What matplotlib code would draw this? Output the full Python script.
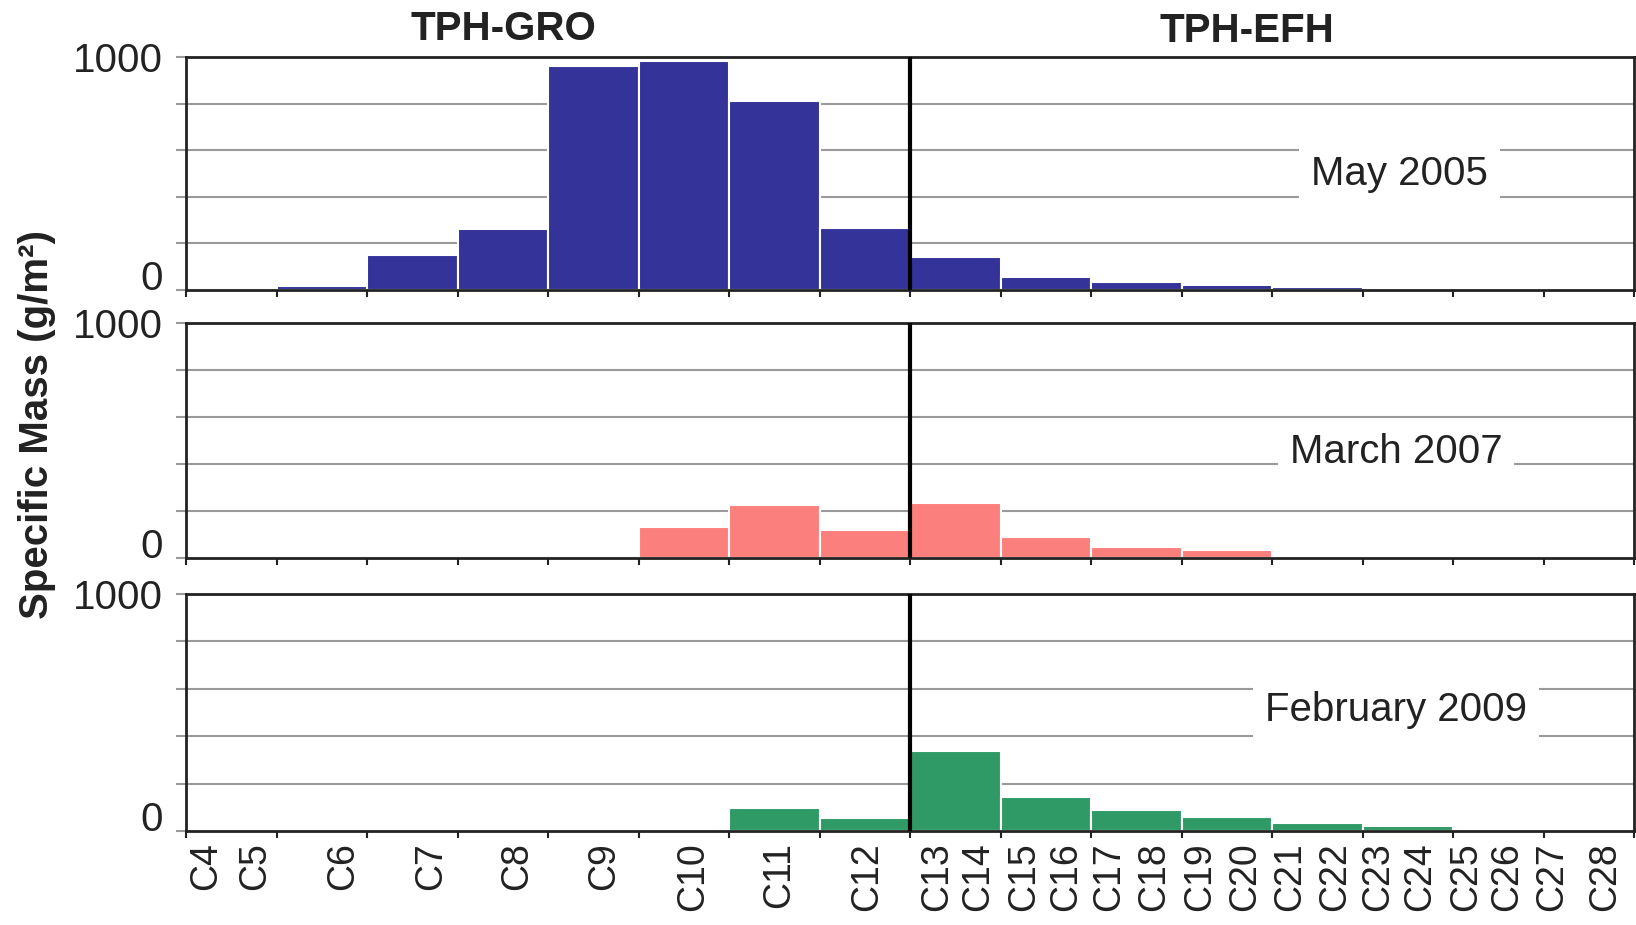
import numpy as np
import matplotlib
matplotlib.use('Agg')
import matplotlib.pyplot as plt

########################################Dados###########################################################################
# 16 classes de largura igual: 8 no TPH-GRO, 8 no TPH-EFH
carbonos = ['C%d' % n for n in range(4, 29)]
may_2005 = [0, 15, 150, 262, 963, 982, 810, 266, 143, 57, 34, 21, 12, 9, 4, 3]
march_2007 = [0, 1, 1, 1, 1, 131, 226, 119, 235, 88, 47, 35, 2, 2, 2, 1]
february_2009 = [0, 0, 1, 1, 1, 8, 96, 56, 339, 145, 89, 60, 35, 21, 10, 4]
amostras = ['May 2005', 'March 2007', 'February 2009']
grupos = ['TPH-GRO', 'TPH-EFH']
########################################################################################################################

# posicoes dos rotulos do eixo x (em unidades de classe)
pos_rotulos = [0.22, 0.76, 1.74, 2.71, 3.66, 4.62, 5.60, 6.55, 7.53,
               8.30, 8.75, 9.26, 9.73, 10.2, 10.7, 11.2, 11.7, 12.2, 12.7,
               13.17, 13.64, 14.15, 14.6, 15.1, 15.68]
pos_texto = [(13.41, 498), (13.37, 450), (13.37, 512)]
cores = ['#333399', '#FB7F7C', '#2F9A66']

plt.rcParams['font.family'] = ['Liberation Sans', 'DejaVu Sans']
tinta = '#222222'

fig = plt.figure(figsize=(16.36, 9.25), dpi=100)
caixas = [[0.1137, 0.6865, 0.8851, 0.2519],
          [0.1137, 0.3968, 0.8851, 0.2540],
          [0.1137, 0.1016, 0.8851, 0.2562]]

n_bins = len(may_2005)
x = np.arange(n_bins)
series = [may_2005, march_2007, february_2009]

for i, (valores, cor, nome) in enumerate(zip(series, cores, amostras)):
    ax = fig.add_axes(caixas[i])
    ax.bar(x, valores, width=1.0, align='edge', color=cor, edgecolor='white', linewidth=1.5, zorder=2)
    ax.set_xlim(0, n_bins)
    ax.set_ylim(0, 1000)
    ax.set_axisbelow(True)
    ax.yaxis.grid(True, color='#9a9a9a', linewidth=1.5, zorder=0)

    ax.set_yticks(np.arange(0, 1001, 200))
    ax.set_yticklabels(['0', '', '', '', '', '1000'])
    ax.tick_params(axis='y', length=7, width=1.5, color='#9a9a9a', labelsize=29, labelcolor=tinta, pad=10)
    ax.get_yticklabels()[0].set_verticalalignment('baseline')

    ax.set_xticks(np.arange(0, n_bins + 1))
    ax.set_xticklabels([])
    ax.tick_params(axis='x', which='major', length=5, width=1.5, color=tinta)
    if i == 2:
        ax.set_xticks(pos_rotulos, minor=True)
        ax.set_xticklabels(carbonos, minor=True, rotation=90, fontsize=27, color=tinta)
        ax.tick_params(axis='x', which='minor', length=0, pad=8)

    for lado in ['left', 'right', 'top', 'bottom']:
        ax.spines[lado].set_color(tinta)
        ax.spines[lado].set_linewidth(2)

    # separacao GRO / EFH
    ax.axvline(8, color='black', linewidth=3, zorder=3)

    ax.text(pos_texto[i][0], pos_texto[i][1], nome, fontsize=29, color=tinta, ha='center', va='center',
            zorder=4, bbox=dict(boxstyle='square,pad=0.3', facecolor='white', edgecolor='none'))

fig.text(0.3075, 0.9686, grupos[0], fontsize=29, fontweight='bold', color=tinta, ha='center', va='center')
fig.text(0.7622, 0.9665, grupos[1], fontsize=29, fontweight='bold', color=tinta, ha='center', va='center')
fig.text(0.0226, 0.5416, 'Specific Mass (g/m²)', fontsize=29, fontweight='bold', color=tinta,
         rotation=90, ha='center', va='center')

plt.savefig('out.png', dpi=100)
plt.close()
